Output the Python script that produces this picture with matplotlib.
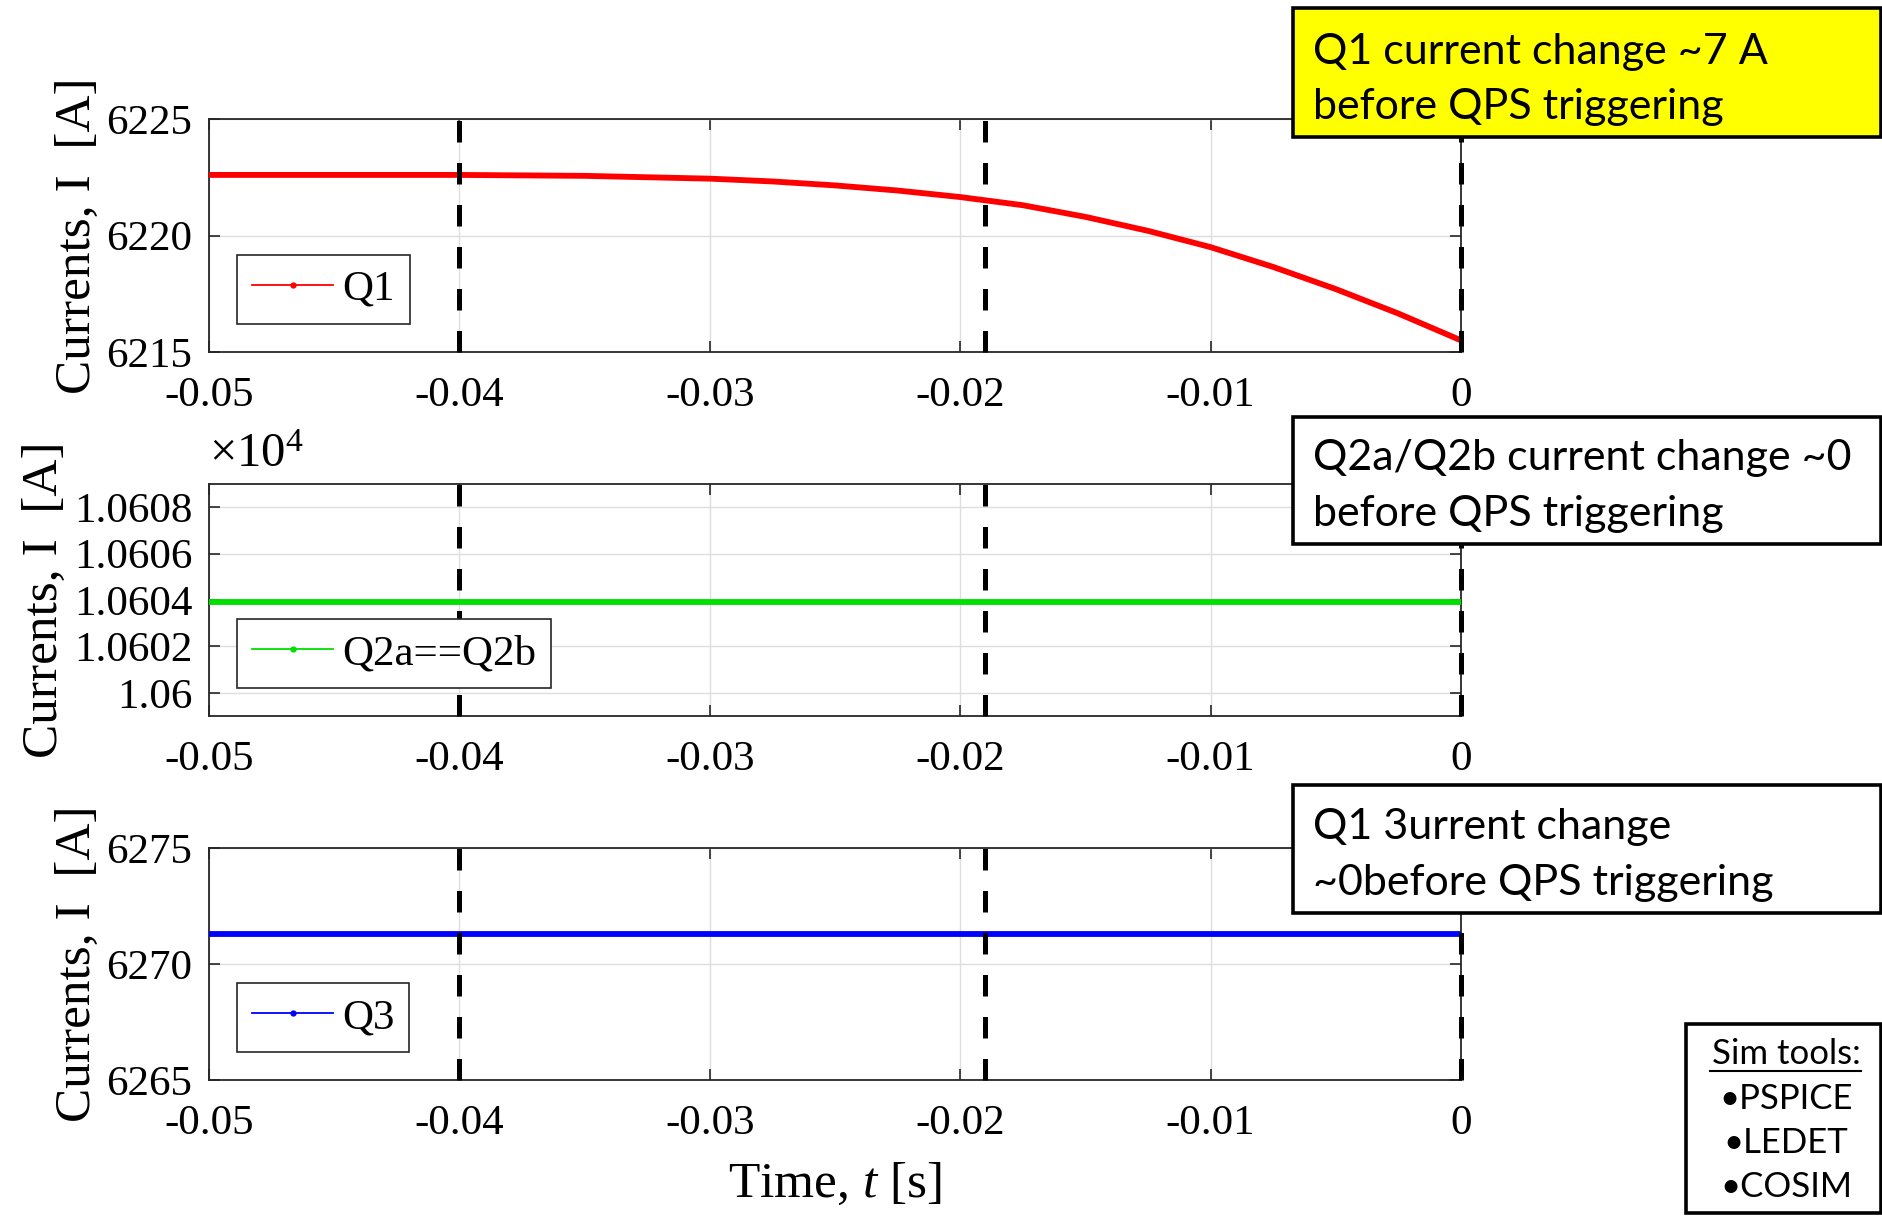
import numpy as np
import matplotlib
matplotlib.use("Agg")
import matplotlib.pyplot as plt
from matplotlib.lines import Line2D
from matplotlib.patches import Rectangle
from matplotlib.ticker import FuncFormatter

# data
t_q1 = [-0.05, -0.04, -0.035, -0.03, -0.0275, -0.025, -0.0225, -0.02, -0.0175,
        -0.015, -0.0125, -0.01, -0.0075, -0.005, -0.0025, 0.0]
q1 = [6222.6, 6222.6, 6222.56, 6222.44, 6222.32, 6222.15, 6221.93, 6221.65, 6221.3,
      6220.8, 6220.2, 6219.5, 6218.65, 6217.7, 6216.65, 6215.5]
t_flat = [-0.05, 0.0]
q2 = [10603.9, 10603.9]
q3 = [6271.3, 6271.3]
markers_t = [-0.04, -0.019, 0.0]

x_ticks = [-0.05, -0.04, -0.03, -0.02, -0.01, 0.0]
y1_ticks = [6215, 6220, 6225]
y2_ticks = [10600, 10602, 10604, 10606, 10608]
y3_ticks = [6265, 6270, 6275]

plt.rcParams['font.family'] = ['Liberation Serif', 'DejaVu Serif']
plt.rcParams['mathtext.fontset'] = 'custom'
plt.rcParams['mathtext.rm'] = 'Liberation Serif'
plt.rcParams['mathtext.it'] = 'Liberation Serif:italic'
plt.rcParams['axes.unicode_minus'] = False

W, H = 1883, 1218
fig = plt.figure(figsize=(W / 100, H / 100), dpi=100)


def px(x0, y0, x1, y1):
    # figure-pixel box (top-left origin) -> fig fraction rect
    return [x0 / W, 1 - y1 / H, (x1 - x0) / W, (y1 - y0) / H]


panels = [
    (px(209, 119, 1461, 352), t_q1, q1, 'red', (6215, 6225), y1_ticks, 'Q1'),
    (px(209, 484, 1461, 716), t_flat, q2, '#00e000', (10599, 10609), y2_ticks, 'Q2a==Q2b'),
    (px(209, 848, 1461, 1080), t_flat, q3, 'blue', (6265, 6275), y3_ticks, 'Q3'),
]

axes = []
for rect, tt, yy, col, ylim, yt, name in panels:
    ax = fig.add_axes(rect)
    ax.plot(tt, yy, color=col, lw=4.2, zorder=3)
    for xv in markers_t:
        ax.axvline(xv, color='black', lw=3.6, ls=(0, (4.3, 4.1)), zorder=4,
                   clip_on=False)
    ax.set_xlim(-0.05, 0)
    ax.set_ylim(*ylim)
    ax.set_xticks(x_ticks)
    ax.set_yticks(yt)
    ax.xaxis.set_major_formatter(FuncFormatter(lambda v, p: '%g' % round(v, 4)))
    ax.grid(True, color='#dedede', lw=1.0, zorder=0)
    ax.tick_params(direction='in', top=True, right=True, length=8, width=1.2,
                   labelsize=31, color='#262626')
    ax.tick_params(axis='x', pad=18)
    ax.tick_params(axis='y', pad=12)
    for s in ax.spines.values():
        s.set_color('#262626')
        s.set_linewidth(1.3)
    ax.set_ylabel('Currents, I  [A]', fontsize=37, labelpad=4)
    h = Line2D([], [], color=col, lw=1.3, marker='.', markersize=7)
    leg = ax.legend([h], [name], loc='lower left', bbox_to_anchor=(0.022, 0.12),
                    borderaxespad=0, fontsize=31, fancybox=False, framealpha=1,
                    edgecolor='#262626', handlelength=1.9, handletextpad=0.2,
                    borderpad=0.35)
    leg.get_frame().set_linewidth(1.2)
    axes.append(ax)

axes[1].yaxis.set_major_formatter(FuncFormatter(lambda v, p: '%g' % round(v / 1e4, 5)))
axes[1].text(0.0, 1.03, r'$\times10^4$', transform=axes[1].transAxes, fontsize=35,
             ha='left', va='bottom')
axes[2].set_xlabel('Time, $t$ [s]', fontsize=37, labelpad=13)

# annotation boxes
sans = ['Lato', 'DejaVu Sans']
boxes = [
    ((1293, 8, 1881, 137), 'yellow', ['Q1 current change ~7 A', 'before QPS triggering'], (52, 107)),
    ((1293, 417, 1881, 544), 'white', ['Q2a/Q2b current change ~0', 'before QPS triggering'], (458, 514)),
    ((1293, 785, 1881, 913), 'white', ['Q1 3urrent change', '~0before QPS triggering'], (827, 883)),
]
for (x0, y0, x1, y1), fc, lines, ys in boxes:
    fig.patches.append(Rectangle((x0 / W, 1 - y1 / H), (x1 - x0) / W, (y1 - y0) / H,
                                 transform=fig.transFigure, facecolor=fc,
                                 edgecolor='black', lw=2.6, zorder=10))
    for line, yv in zip(lines, ys):
        fig.text(1313 / W, 1 - yv / H, line, fontsize=31, family=sans,
                 ha='left', va='center', zorder=11)

# sim tools box
fig.patches.append(Rectangle((1686 / W, 1 - 1213 / H), (1881 - 1686) / W, (1213 - 1024) / H,
                             transform=fig.transFigure, facecolor='white',
                             edgecolor='black', lw=2.6, zorder=10))
fig.text(1786 / W, 1 - 1054 / H, 'Sim tools:', fontsize=25, family=sans,
         ha='center', va='center', zorder=11)
fig.add_artist(Line2D([1710 / W, 1861 / W], [1 - 1071 / H, 1 - 1071 / H],
                      color='black', lw=1.5, transform=fig.transFigure, zorder=11))
for item, yv in zip(['•PSPICE', '•LEDET', '•COSIM'], [1099, 1143, 1187]):
    fig.text(1786 / W, 1 - yv / H, item, fontsize=25, family=sans,
             ha='center', va='center', zorder=11)

fig.savefig('out.png', dpi=100)
